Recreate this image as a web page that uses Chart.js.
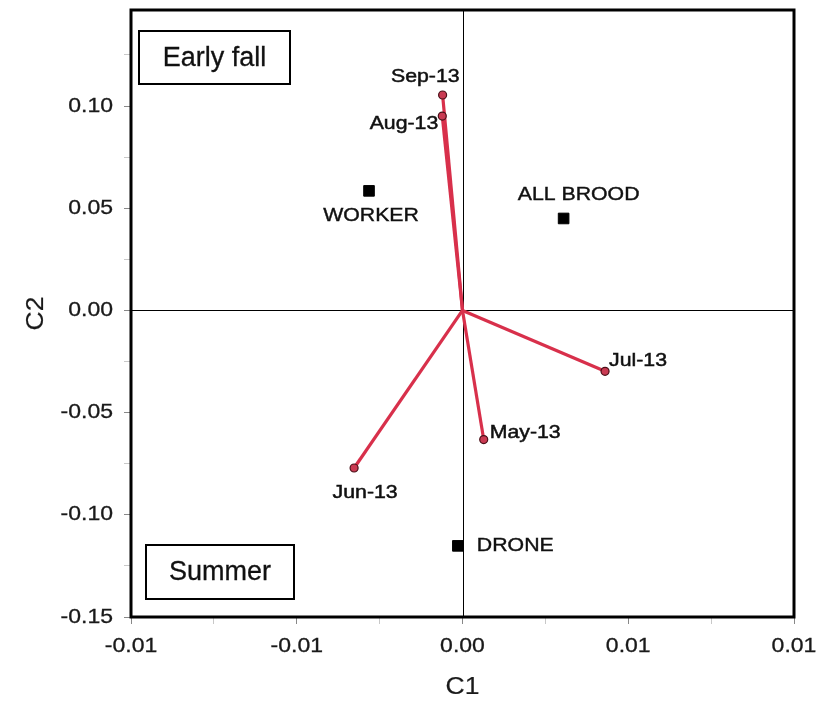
<!DOCTYPE html>
<html>
<head>
<meta charset="utf-8">
<script src="https://cdn.jsdelivr.net/npm/chart.js@4/dist/chart.umd.min.js"></script>
<style>
  body { margin: 0; background: #fff; }
  #wrap { width: 827px; height: 706px; }
</style>
</head>
<body>
<div id="wrap"><canvas id="biplot"></canvas></div>
<script>
"use strict"

// sampling months (vectors from the origin)
const monthLabels = ['May-13', 'Jun-13', 'Jul-13', 'Aug-13', 'Sep-13'];
const monthC1 = [0.00064, -0.00327, 0.0043, -0.00061, -0.0006];
const monthC2 = [-0.0632, -0.0771, -0.0298, 0.0951, 0.1054];

// brood groups (square markers)
const groupLabels = ['WORKER', 'ALL BROOD', 'DRONE'];
const groupC1 = [-0.00282, 0.00305, -0.00014];
const groupC2 = [0.0585, 0.0450, -0.1152];

// axis ticks
const xTicks = [-0.01, -0.005, 0, 0.005, 0.01];
const xTickLabels = ['-0.01', '-0.01', '0.00', '0.01', '0.01'];
const yTicks = [-0.15, -0.10, -0.05, 0, 0.05, 0.10];
const yTickLabels = ['-0.15', '-0.10', '-0.05', '0.00', '0.05', '0.10'];

// label placement next to each mark: [dx, dy, align]
const monthLabelPos = [[6, -7, 'left'], [11, 25, 'center'], [4, -10, 'left'], [-4, 8, 'right'], [17, -18, 'right']];
const groupLabelPos = [[2, 25, 'center'], [15, -24, 'center'], [19, 0, 'left']];

const FONT = '"Liberation Sans", Arial, sans-serif';
const STRETCH = 1.15;

function withMinor(major) {
  let out = [];
  major.forEach((v, i) => {
    out.push({ value: v, major: true });
    if (i < major.length - 1) out.push({ value: (v + major[i + 1]) / 2, major: false });
  });
  return out;
}

// text with a little horizontal stretch and an optional hairline stroke to thicken it
function wideText(ctx, str, x, y, align, size, sx, heavy) {
  ctx.save();
  ctx.font = size + 'px ' + FONT;
  ctx.textAlign = align;
  ctx.textBaseline = 'middle';
  ctx.translate(x, y);
  ctx.scale(sx, 1);
  ctx.fillText(str, 0, 0);
  if (heavy) {
    ctx.lineWidth = heavy;
    ctx.strokeStyle = ctx.fillStyle;
    ctx.strokeText(str, 0, 0);
  }
  ctx.restore();
}

function textBox(ctx, str, left, top, w, h) {
  ctx.save();
  ctx.lineWidth = 2;
  ctx.strokeStyle = '#000';
  ctx.strokeRect(left, top, w, h);
  ctx.restore();
  wideText(ctx, str, left + w / 2, top + h / 2 + 1, 'center', 27, 1.0, 0.3);
}

const biplotDecor = {
  id: 'biplotDecor',
  beforeDatasetsDraw(chart) {
    const { ctx, chartArea: a, scales: { x, y } } = chart;
    ctx.save();
    ctx.strokeStyle = '#000';
    ctx.lineWidth = 1;
    const x0 = Math.round(x.getPixelForValue(0)) + 0.5;
    const y0 = Math.round(y.getPixelForValue(0)) + 0.5;
    ctx.beginPath();
    ctx.moveTo(x0, a.top); ctx.lineTo(x0, a.bottom);
    ctx.moveTo(a.left, y0); ctx.lineTo(a.right, y0);
    ctx.stroke();
    ctx.restore();
  },
  afterDatasetsDraw(chart) {
    const { ctx, chartArea: a, scales: { x, y } } = chart;
    ctx.fillStyle = '#111';

    monthLabels.forEach((m, i) => {
      const p = monthLabelPos[i];
      wideText(ctx, m, x.getPixelForValue(monthC1[i]) + p[0], y.getPixelForValue(monthC2[i]) + p[1], p[2], 18.5, STRETCH, 0.5);
    });
    groupLabels.forEach((g, i) => {
      const p = groupLabelPos[i];
      wideText(ctx, g, x.getPixelForValue(groupC1[i]) + p[0], y.getPixelForValue(groupC2[i]) + p[1], p[2], 18.5, STRETCH, 0.4);
    });

    textBox(ctx, 'Early fall', a.left + 8, a.top + 21, 151, 53);
    textBox(ctx, 'Summer', a.left + 15, a.bottom - 72, 148, 54);

    // plot frame
    ctx.save();
    ctx.lineWidth = 3;
    ctx.strokeStyle = '#000';
    ctx.strokeRect(a.left, a.top, a.right - a.left, a.bottom - a.top);
    ctx.restore();
  },
  afterDraw(chart) {
    const { ctx, chartArea: a, scales: { x, y } } = chart;
    ctx.fillStyle = '#1a1a1a';
    xTicks.forEach((v, i) => wideText(ctx, xTickLabels[i], x.getPixelForValue(v), a.bottom + 29, 'center', 20, STRETCH, 0.3));
    yTicks.forEach((v, i) => wideText(ctx, yTickLabels[i], a.left - 18, y.getPixelForValue(v), 'right', 20, STRETCH, 0.3));

    wideText(ctx, 'C1', (a.left + a.right) / 2, 688, 'center', 23, STRETCH, 0.2);
    ctx.save();
    ctx.translate(37, (a.top + a.bottom) / 2);
    ctx.rotate(-Math.PI / 2);
    wideText(ctx, 'C2', 0, 0, 'center', 23, STRETCH, 0.2);
    ctx.restore();
  }
};

const monthSets = monthLabels.map((m, i) => ({
  label: m,
  data: [{ x: 0, y: 0 }, { x: monthC1[i], y: monthC2[i] }],
  showLine: true,
  borderColor: '#d8304b',
  borderWidth: 3.2,
  pointRadius: [0, 4],
  pointBackgroundColor: '#c93a52',
  pointBorderColor: '#4a1018',
  pointBorderWidth: 1.2
}));

const groupSet = {
  label: 'groups',
  data: groupC1.map((v, i) => ({ x: v, y: groupC2[i] })),
  pointStyle: 'rect',
  pointRadius: 7.5,
  pointBackgroundColor: '#000',
  pointBorderColor: '#000',
  showLine: false
};

const gridOpts = {
  drawOnChartArea: false,
  drawTicks: true,
  tickLength: 7,
  color: ctx => (ctx.tick && ctx.tick.major) ? '#888' : '#c8c8c8'
};

new Chart(document.getElementById('biplot'), {
  type: 'scatter',
  data: { datasets: [...monthSets, groupSet] },
  options: {
    responsive: true,
    maintainAspectRatio: false,
    animation: false,
    layout: { padding: { top: 10, right: 33, left: 0, bottom: 0 } },
    plugins: { legend: { display: false }, tooltip: { enabled: false } },
    scales: {
      x: {
        type: 'linear',
        min: -0.01,
        max: 0.01,
        afterBuildTicks: s => { s.ticks = withMinor(xTicks); },
        afterFit: s => { s.height = 89; },
        ticks: { display: false },
        grid: gridOpts,
        border: { display: false }
      },
      y: {
        type: 'linear',
        min: -0.15,
        max: 0.147,
        afterBuildTicks: s => { s.ticks = withMinor(yTicks).concat([{ value: 0.125, major: false }]); },
        afterFit: s => { s.width = 131; },
        ticks: { display: false },
        grid: gridOpts,
        border: { display: false }
      }
    }
  },
  plugins: [biplotDecor]
});
</script>
</body>
</html>
